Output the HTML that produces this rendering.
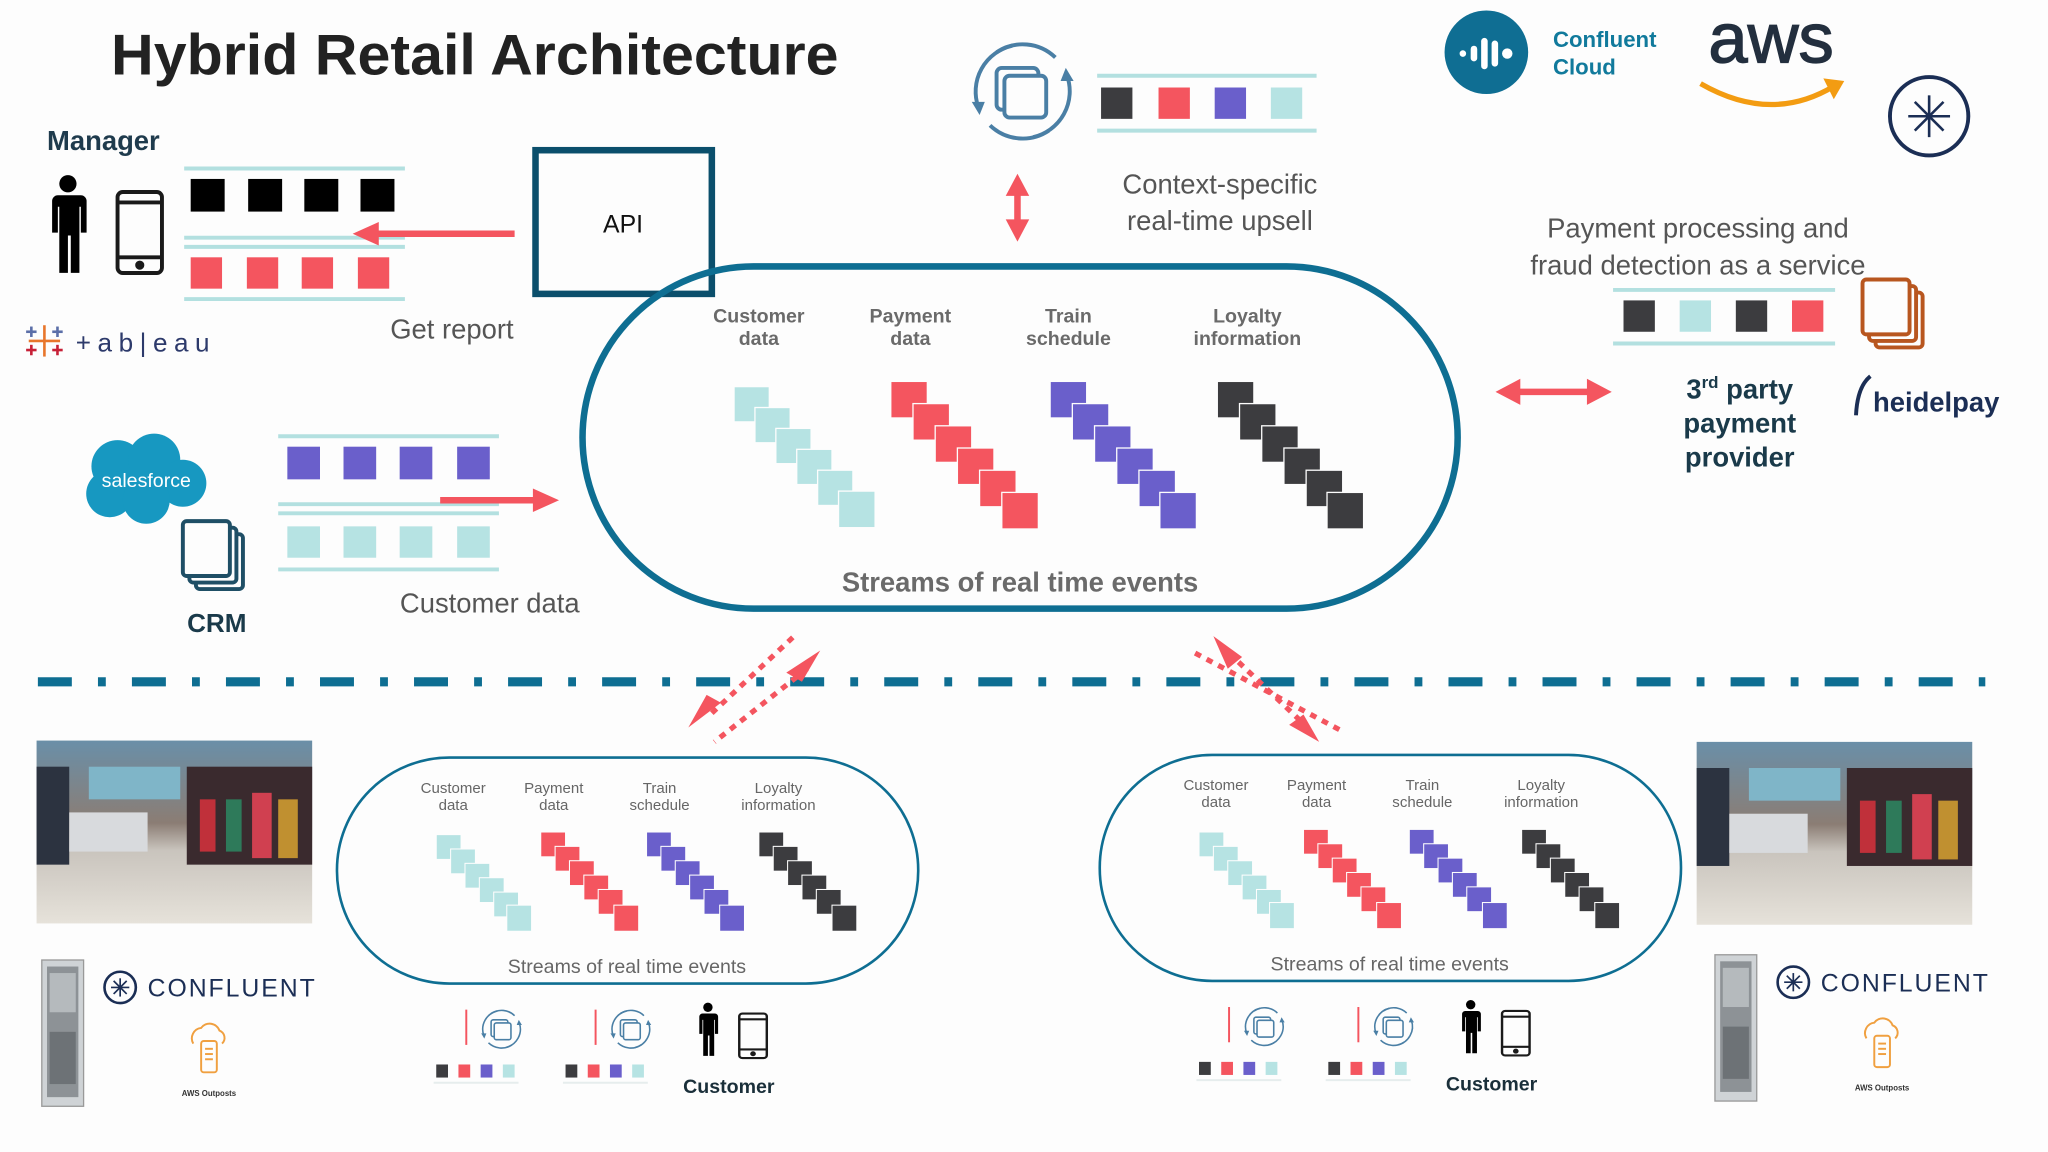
<!DOCTYPE html>
<html><head><meta charset="utf-8"><style>
html,body{margin:0;padding:0;background:#fdfdfd;}
svg{display:block;}
text{font-family:"Liberation Sans",sans-serif;}
</style></head><body>
<svg width="2048" height="1152" viewBox="0 0 1568 882" xmlns="http://www.w3.org/2000/svg">
<defs>
<g id="person">
 <circle cx="0" cy="-33" r="6" fill="#000"/>
 <path d="M-9,-25 h18 a4,4 0 0 1 4,4 v22 h-4 v-18 h-1 v46 h-6 v-26 h-2 v26 h-6 v-46 h-1 v18 h-4 v-22 a4,4 0 0 1 4,-4z" fill="#000"/>
</g>
<g id="sync" fill="none" stroke="#4a7fa5" stroke-width="3">
 <path d="M-8,-35 A36,36 0 0 0 -34,12"/>
 <path d="M8,35 A36,36 0 0 0 34,-12"/>
 <path d="M-25,26 A36,36 0 0 0 20,30"/>
 <path d="M25,-26 A36,36 0 0 0 -20,-30"/>
 <polygon points="-39,8 -29,8 -33,18" fill="#4a7fa5" stroke="none"/>
 <polygon points="39,-8 29,-8 33,-18" fill="#4a7fa5" stroke="none"/>
 <rect x="-20" y="-18" width="32" height="32" rx="4"/>
 <rect x="-14" y="-12" width="32" height="32" rx="4" fill="#fdfdfd"/>
</g>
<g id="doc" fill="#fdfdfd" stroke-width="3">
 <rect x="10" y="10" width="36" height="42" rx="3"/>
 <rect x="5" y="5" width="36" height="42" rx="3"/>
 <rect x="0" y="0" width="36" height="42" rx="3"/>
</g>
<g id="phone" fill="none" stroke="#1a1a1a" stroke-width="3">
 <rect x="0" y="0" width="34" height="62" rx="4"/>
 <line x1="0" y1="8" x2="34" y2="8"/><line x1="0" y1="50" x2="34" y2="50"/>
 <circle cx="17" cy="56" r="2" fill="#1a1a1a"/>
</g>
<g id="outpost" fill="none" stroke="#f0a040" stroke-width="1.5">
 <path d="M-12,-6 a8,8 0 0 1 6,-12 a8,8 0 0 1 14,2 a6,6 0 0 1 2,10"/>
 <rect x="-6" y="-8" width="12" height="24" rx="2"/>
 <line x1="-3" y1="-2" x2="3" y2="-2"/><line x1="-3" y1="2" x2="3" y2="2"/><line x1="-3" y1="6" x2="3" y2="6"/>
</g>
</defs>

<text x="85" y="57" font-size="44" font-weight="bold" fill="#222" textLength="557" lengthAdjust="spacingAndGlyphs">Hybrid Retail Architecture</text>

<!-- Manager -->
<text x="36" y="115" font-size="21" font-weight="bold" fill="#1f3b4d">Manager</text>
<g transform="translate(52,177) scale(1.1)"><use href="#person"/></g>
<g transform="translate(90,147)"><use href="#phone"/></g>
<g stroke="#b3e0e0" stroke-width="3">
<line x1="141" y1="129" x2="310" y2="129"/><line x1="141" y1="182" x2="310" y2="182"/>
<line x1="141" y1="189" x2="310" y2="189"/><line x1="141" y1="229" x2="310" y2="229"/></g>
<g fill="#000"><rect x="146" y="137" width="26" height="25"/><rect x="190" y="137" width="26" height="25"/><rect x="233" y="137" width="26" height="25"/><rect x="276" y="137" width="26" height="25"/></g>
<g fill="#f4555f"><rect x="146" y="197" width="24" height="24"/><rect x="189" y="197" width="24" height="24"/><rect x="231" y="197" width="24" height="24"/><rect x="274" y="197" width="24" height="24"/></g>
<line x1="394" y1="179" x2="285" y2="179" stroke="#f4555f" stroke-width="5"/>
<polygon points="270,179 290,170 290,188" fill="#f4555f"/>
<rect x="410" y="115" width="135" height="110" fill="none" stroke="#0b4f6c" stroke-width="5"/>
<text x="477" y="178" font-size="19" text-anchor="middle" fill="#111">API</text>
<text x="346" y="259" font-size="21" text-anchor="middle" fill="#555">Get report</text>
<g stroke-width="2">
<g stroke="#e8762b"><line x1="34" y1="249" x2="34" y2="273"/><line x1="22" y1="261" x2="46" y2="261"/></g>
<g stroke="#5b6fa8"><line x1="24" y1="250" x2="24" y2="258"/><line x1="20" y1="254" x2="28" y2="254"/><line x1="44" y1="250" x2="44" y2="258"/><line x1="40" y1="254" x2="48" y2="254"/></g>
<g stroke="#c72037"><line x1="24" y1="264" x2="24" y2="272"/><line x1="20" y1="268" x2="28" y2="268"/><line x1="44" y1="264" x2="44" y2="272"/><line x1="40" y1="268" x2="48" y2="268"/></g>
</g>
<text x="58" y="269" font-size="20" fill="#2d3a6b" letter-spacing="5">+ab|eau</text>

<!-- Salesforce / CRM -->
<g fill="#1798c1">
<circle cx="90" cy="357" r="20"/><circle cx="118" cy="352" r="20"/><circle cx="140" cy="370" r="18"/><circle cx="84" cy="378" r="18"/><circle cx="112" cy="383" r="18"/></g>
<text x="112" y="373" font-size="15" fill="#fff" text-anchor="middle">salesforce</text>
<g transform="translate(140,399)" stroke="#1f4f66"><use href="#doc"/></g>
<text x="166" y="484" font-size="20" font-weight="bold" fill="#1a3a4a" text-anchor="middle">CRM</text>
<g stroke="#b3e0e0" stroke-width="3">
<line x1="213" y1="334" x2="382" y2="334"/><line x1="213" y1="386" x2="382" y2="386"/>
<line x1="213" y1="393" x2="382" y2="393"/><line x1="213" y1="436" x2="382" y2="436"/></g>
<g fill="#6a5fcb"><rect x="220" y="342" width="25" height="25"/><rect x="263" y="342" width="25" height="25"/><rect x="306" y="342" width="25" height="25"/><rect x="350" y="342" width="25" height="25"/></g>
<g fill="#b6e3e3"><rect x="220" y="403" width="25" height="24"/><rect x="263" y="403" width="25" height="24"/><rect x="306" y="403" width="25" height="24"/><rect x="350" y="403" width="25" height="24"/></g>
<line x1="337" y1="383" x2="412" y2="383" stroke="#f4555f" stroke-width="5"/>
<polygon points="428,383 408,374 408,392" fill="#f4555f"/>
<text x="375" y="469" font-size="21" text-anchor="middle" fill="#555">Customer data</text>

<!-- Main pill -->
<rect x="446" y="204" width="670" height="262" rx="131" fill="none" stroke="#0e6e92" stroke-width="5"/>
<g font-size="15" font-weight="bold" fill="#6a6a6a" text-anchor="middle">
<text x="581" y="247">Customer</text><text x="581" y="264">data</text>
<text x="697" y="247">Payment</text><text x="697" y="264">data</text>
<text x="818" y="247">Train</text><text x="818" y="264">schedule</text>
<text x="955" y="247">Loyalty</text><text x="955" y="264">information</text>
</g>
<g stroke="#fdfdfd" stroke-width="1">
<g fill="#b6e3e3"><rect x="562" y="296" width="27" height="27"/><rect x="578" y="312" width="27" height="27"/><rect x="594" y="328" width="27" height="27"/><rect x="610" y="344" width="27" height="27"/><rect x="626" y="360" width="27" height="27"/><rect x="642" y="376" width="28" height="28"/></g>
<g fill="#f4555f"><rect x="682" y="292" width="28" height="28"/><rect x="699" y="309" width="28" height="28"/><rect x="716" y="326" width="28" height="28"/><rect x="733" y="343" width="28" height="28"/><rect x="750" y="360" width="28" height="28"/><rect x="767" y="377" width="28" height="28"/></g>
<g fill="#6a5fcb"><rect x="804" y="292" width="28" height="28"/><rect x="821" y="309" width="28" height="28"/><rect x="838" y="326" width="28" height="28"/><rect x="855" y="343" width="28" height="28"/><rect x="872" y="360" width="28" height="28"/><rect x="888" y="377" width="28" height="28"/></g>
<g fill="#3c3c3f"><rect x="932" y="292" width="28" height="28"/><rect x="949" y="309" width="28" height="28"/><rect x="966" y="326" width="28" height="28"/><rect x="983" y="343" width="28" height="28"/><rect x="1000" y="360" width="28" height="28"/><rect x="1016" y="377" width="28" height="28"/></g>
</g>
<text x="781" y="453" font-size="21" font-weight="bold" fill="#6a6a6a" text-anchor="middle">Streams of real time events</text>

<!-- Upsell -->
<g transform="translate(783,70)"><use href="#sync"/></g>
<g stroke="#b3e0e0" stroke-width="3"><line x1="840" y1="58" x2="1008" y2="58"/><line x1="840" y1="100" x2="1008" y2="100"/></g>
<rect x="843" y="67" width="24" height="24" fill="#3c3c3f"/><rect x="887" y="67" width="24" height="24" fill="#f4555f"/><rect x="930" y="67" width="24" height="24" fill="#6a5fcb"/><rect x="973" y="67" width="24" height="24" fill="#b6e3e3"/>
<line x1="779" y1="145" x2="779" y2="172" stroke="#f4555f" stroke-width="5"/>
<polygon points="779,133 770,150 788,150" fill="#f4555f"/><polygon points="779,185 770,168 788,168" fill="#f4555f"/>
<text x="934" y="148" font-size="21" text-anchor="middle" fill="#555">Context-specific</text>
<text x="934" y="176" font-size="21" text-anchor="middle" fill="#555">real-time upsell</text>

<!-- Logos top right -->
<circle cx="1138" cy="40" r="32" fill="#0f6e93"/>
<g fill="#fff"><circle cx="1120" cy="41" r="2.5"/><rect x="1126" y="35" width="5" height="12" rx="2.5"/><rect x="1134" y="29" width="5" height="24" rx="2.5"/><rect x="1142" y="31" width="5" height="20" rx="2.5"/><circle cx="1154" cy="41" r="4"/></g>
<text x="1189" y="36" font-size="17" font-weight="bold" fill="#117a9c">Confluent</text>
<text x="1189" y="57" font-size="17" font-weight="bold" fill="#117a9c">Cloud</text>
<text x="1356" y="48" font-size="54" text-anchor="middle" fill="#232f3e" stroke="#232f3e" stroke-width="1">aws</text>
<path d="M1302,64 Q1356,95 1404,66" fill="none" stroke="#f39c12" stroke-width="4"/>
<polygon points="1396,60 1412,62 1404,76" fill="#f39c12"/>
<circle cx="1477" cy="89" r="30" fill="none" stroke="#1b2e55" stroke-width="3"/>
<g stroke="#1b2e55" stroke-width="2"><line x1="1461" y1="89" x2="1493" y2="89"/><line x1="1477" y1="73" x2="1477" y2="105"/><line x1="1466" y1="78" x2="1488" y2="100"/><line x1="1488" y1="78" x2="1466" y2="100"/></g>

<!-- Payment -->
<text x="1300" y="182" font-size="21" text-anchor="middle" fill="#555">Payment processing and</text>
<text x="1300" y="210" font-size="21" text-anchor="middle" fill="#555">fraud detection as a service</text>
<g stroke="#b3e0e0" stroke-width="3"><line x1="1235" y1="222" x2="1405" y2="222"/><line x1="1235" y1="263" x2="1405" y2="263"/></g>
<rect x="1243" y="230" width="24" height="24" fill="#3c3c3f"/><rect x="1286" y="230" width="24" height="24" fill="#b6e3e3"/><rect x="1329" y="230" width="24" height="24" fill="#3c3c3f"/><rect x="1372" y="230" width="24" height="24" fill="#f4555f"/>
<g transform="translate(1426,214)" stroke="#b8561f"><use href="#doc"/></g>
<line x1="1160" y1="300" x2="1218" y2="300" stroke="#f4555f" stroke-width="5"/>
<polygon points="1145,300 1164,290 1164,310" fill="#f4555f"/><polygon points="1234,300 1215,290 1215,310" fill="#f4555f"/>
<g font-size="21" font-weight="bold" fill="#1a3a4a" text-anchor="middle">
<text x="1332" y="305">3<tspan font-size="13" dy="-8">rd</tspan><tspan dy="8"> party</tspan></text>
<text x="1332" y="331">payment</text><text x="1332" y="357">provider</text></g>
<path d="M1432,288 Q1422,296 1421,318" fill="none" stroke="#1b2e55" stroke-width="3"/>
<text x="1434" y="315" font-size="21" font-weight="bold" fill="#1b2e55">heidelpay</text>

<!-- Dashed line -->
<line x1="29" y1="522" x2="1520" y2="522" stroke="#0e6e92" stroke-width="7" stroke-dasharray="26 20 6 20"/>

<!-- dotted arrows -->
<g stroke="#f4555f" stroke-width="4" stroke-dasharray="5 5">
<line x1="607" y1="488" x2="545" y2="546"/><line x1="618" y1="512" x2="547" y2="568"/>
<line x1="941" y1="500" x2="1000" y2="556"/><line x1="915" y1="500" x2="1028" y2="560"/>
</g>
<polygon points="527,557 552,538 541,532" fill="#f4555f"/>
<polygon points="628,498 602,515 614,522" fill="#f4555f"/>
<polygon points="929,487 940,512 951,503" fill="#f4555f"/>
<polygon points="1010,568 987,555 998,547" fill="#f4555f"/>

<!-- Bottom pills -->
<g id="bp">
<rect x="258" y="580" width="445" height="173" rx="86" fill="none" stroke="#0e6e92" stroke-width="2"/>
<g font-size="11.5" fill="#666" text-anchor="middle">
<text x="347" y="607">Customer</text><text x="347" y="620">data</text>
<text x="424" y="607">Payment</text><text x="424" y="620">data</text>
<text x="505" y="607">Train</text><text x="505" y="620">schedule</text>
<text x="596" y="607">Loyalty</text><text x="596" y="620">information</text></g>
<g stroke="#fdfdfd" stroke-width="0.8">
<g fill="#b6e3e3"><rect x="334" y="639" width="19" height="19"/><rect x="345" y="650" width="19" height="19"/><rect x="356" y="661" width="19" height="19"/><rect x="367" y="672" width="19" height="19"/><rect x="378" y="683" width="19" height="19"/><rect x="388" y="693" width="19" height="20"/></g>
<g fill="#f4555f"><rect x="414" y="637" width="19" height="19"/><rect x="425" y="648" width="19" height="19"/><rect x="436" y="659" width="19" height="19"/><rect x="447" y="670" width="19" height="19"/><rect x="458" y="681" width="19" height="19"/><rect x="470" y="693" width="19" height="20"/></g>
<g fill="#6a5fcb"><rect x="495" y="637" width="19" height="19"/><rect x="506" y="648" width="19" height="19"/><rect x="517" y="659" width="19" height="19"/><rect x="528" y="670" width="19" height="19"/><rect x="539" y="681" width="19" height="19"/><rect x="551" y="693" width="19" height="20"/></g>
<g fill="#3c3c3f"><rect x="581" y="637" width="19" height="19"/><rect x="592" y="648" width="19" height="19"/><rect x="603" y="659" width="19" height="19"/><rect x="614" y="670" width="19" height="19"/><rect x="625" y="681" width="19" height="19"/><rect x="637" y="693" width="19" height="20"/></g>
</g>
<text x="480" y="745" font-size="15" fill="#666" text-anchor="middle">Streams of real time events</text>
<line x1="357" y1="773" x2="357" y2="800" stroke="#f4555f" stroke-width="1.5"/>
<g transform="translate(384,788) scale(0.4)"><use href="#sync"/></g>
<line x1="456" y1="773" x2="456" y2="800" stroke="#f4555f" stroke-width="1.5"/>
<g transform="translate(483,788) scale(0.4)"><use href="#sync"/></g>
<g><rect x="334" y="815" width="9" height="10" fill="#3c3c3f"/><rect x="351" y="815" width="9" height="10" fill="#f4555f"/><rect x="368" y="815" width="9" height="10" fill="#6a5fcb"/><rect x="385" y="815" width="9" height="10" fill="#b6e3e3"/>
<rect x="433" y="815" width="9" height="10" fill="#3c3c3f"/><rect x="450" y="815" width="9" height="10" fill="#f4555f"/><rect x="467" y="815" width="9" height="10" fill="#6a5fcb"/><rect x="484" y="815" width="9" height="10" fill="#b6e3e3"/></g>
<g stroke="#e6eded" stroke-width="1.5"><line x1="332" y1="829" x2="397" y2="829"/><line x1="431" y1="829" x2="496" y2="829"/></g>
<g transform="translate(542,791) scale(0.6)"><use href="#person"/></g>
<g transform="translate(566,776) scale(0.62 0.55)"><use href="#phone"/></g>
<text x="558" y="837" font-size="15" font-weight="bold" fill="#1a2f3a" text-anchor="middle">Customer</text>
</g>
<g transform="translate(584,-2)"><use href="#bp"/></g>

<!-- Mall photos -->
<defs>
<linearGradient id="mall" x1="0" y1="0" x2="0" y2="1">
<stop offset="0" stop-color="#6a8fa8"/><stop offset="0.45" stop-color="#8b7d74"/><stop offset="0.6" stop-color="#c9c4bd"/><stop offset="1" stop-color="#e6e2da"/></linearGradient>
<g id="mallimg">
<rect x="0" y="0" width="211" height="140" fill="url(#mall)"/>
<rect x="0" y="20" width="25" height="75" fill="#2c3340"/>
<rect x="115" y="20" width="96" height="75" fill="#3a2a2e"/>
<rect x="125" y="45" width="12" height="40" fill="#c0303a"/><rect x="145" y="45" width="12" height="40" fill="#2e7a5a"/><rect x="165" y="40" width="15" height="50" fill="#d04050"/><rect x="185" y="45" width="15" height="45" fill="#c09030"/>
<rect x="40" y="20" width="70" height="25" fill="#7fb5c8"/>
<rect x="25" y="55" width="60" height="30" fill="#d8dadd"/>
</g>
</defs>
<g transform="translate(28,567)"><use href="#mallimg"/></g>
<g transform="translate(1299,568)"><use href="#mallimg"/></g>

<!-- racks & confluent -->
<g id="rackgrp">
<rect x="32" y="735" width="32" height="112" fill="#cfd3d6" stroke="#999" stroke-width="1"/>
<rect x="36" y="740" width="24" height="100" fill="#8d9296"/>
<rect x="38" y="745" width="20" height="30" fill="#b5babd"/><rect x="38" y="790" width="20" height="40" fill="#6d7276"/>
<circle cx="92" cy="756" r="12" fill="none" stroke="#1b2e55" stroke-width="2"/>
<g stroke="#1b2e55" stroke-width="1.3"><line x1="85" y1="756" x2="99" y2="756"/><line x1="92" y1="749" x2="92" y2="763"/><line x1="87" y1="751" x2="97" y2="761"/><line x1="97" y1="751" x2="87" y2="761"/></g>
<text x="113" y="763" font-size="19" fill="#1b2e55" letter-spacing="1.5">CONFLUENT</text>
<g transform="translate(160,805)"><use href="#outpost"/></g>
<text x="160" y="839" font-size="6" font-weight="bold" fill="#333" text-anchor="middle">AWS Outposts</text>
</g>
<g transform="translate(1281,-4)"><use href="#rackgrp"/></g>
</svg>
</body></html>
